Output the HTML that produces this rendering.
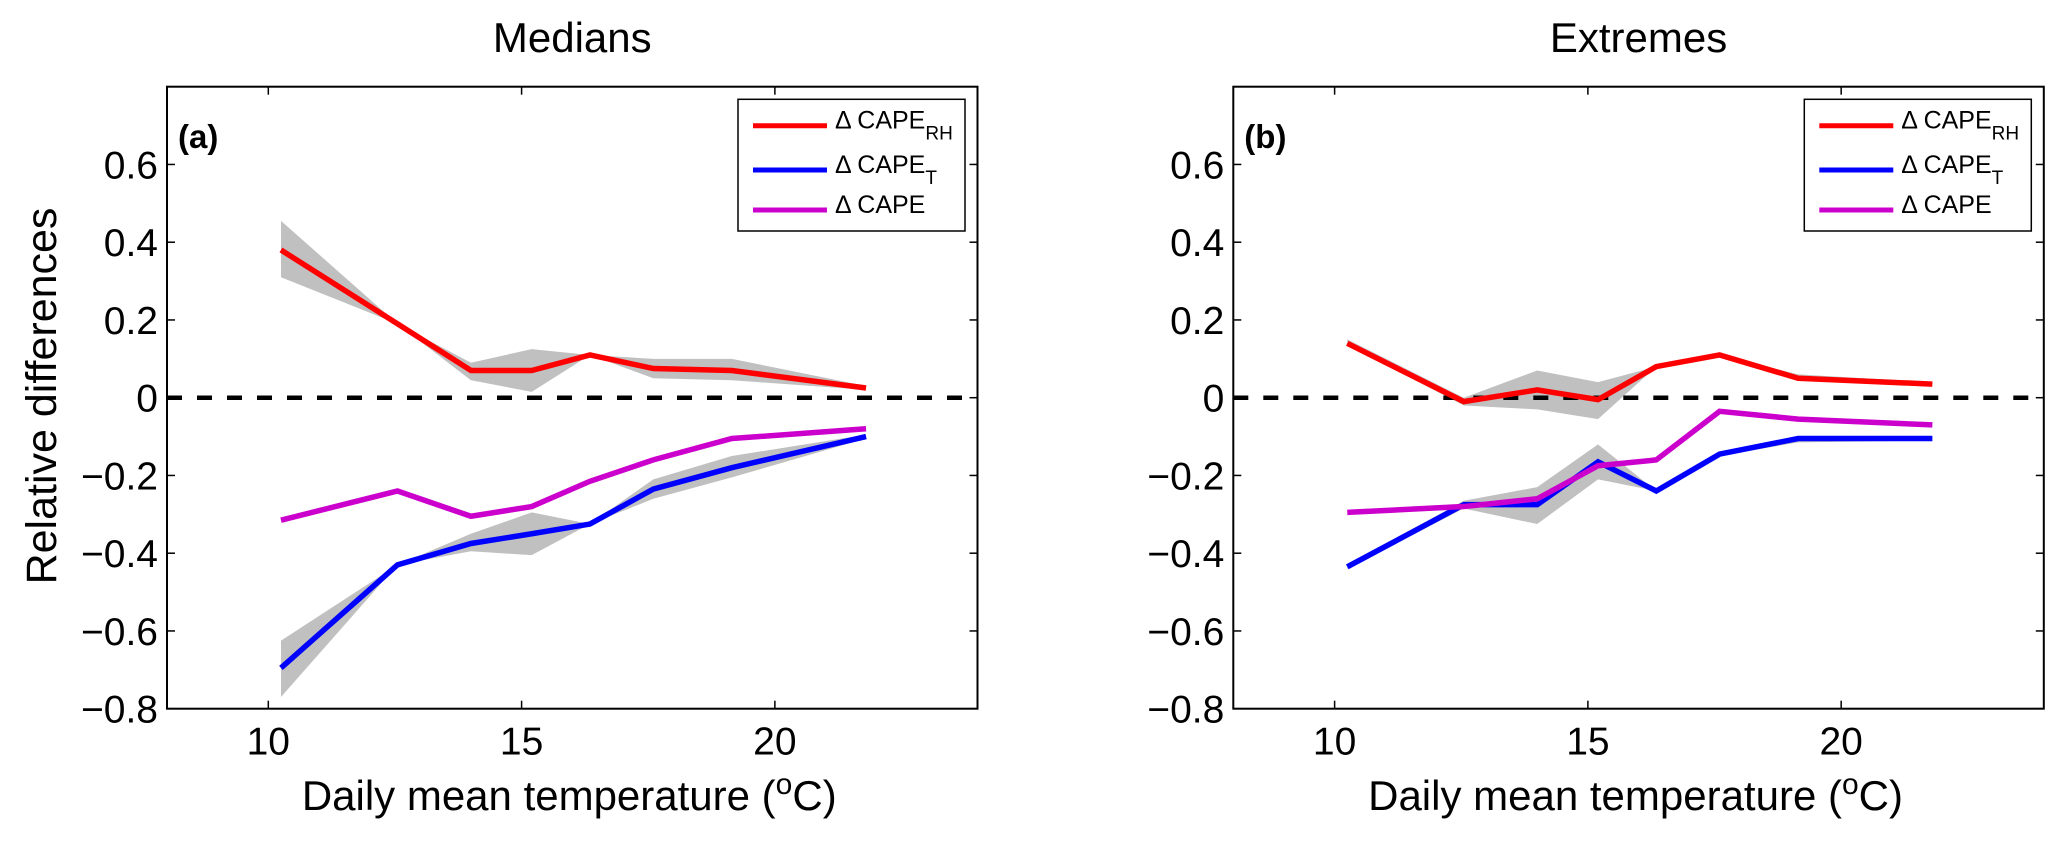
<!DOCTYPE html>
<html><head><meta charset="utf-8"><style>
html,body{margin:0;padding:0;background:#fff;}
svg{display:block;font-family:"Liberation Sans",Arial,sans-serif;}
</style></head><body>
<svg id="chart" width="2068" height="843" viewBox="0 0 2068 843" xmlns="http://www.w3.org/2000/svg"></svg>
<script>
const temps = [10.25, 12.55, 14.0, 15.2, 16.35, 17.6, 19.15, 21.8];
const xTicks = [10, 15, 20];
const yTicks = [-0.8, -0.6, -0.4, -0.2, 0, 0.2, 0.4, 0.6];
const yTickLabels = ["\u22120.8", "\u22120.6", "\u22120.4", "\u22120.2", "0", "0.2", "0.4", "0.6"];
// Panel a (Medians)
const aRH = [0.38, 0.19, 0.07, 0.07, 0.11, 0.075, 0.07, 0.025];
const aRHUp = [0.455, 0.19, 0.09, 0.125, 0.11, 0.1, 0.1, 0.03];
const aRHLo = [0.31, 0.19, 0.045, 0.015, 0.11, 0.05, 0.045, 0.02];
const aT = [-0.695, -0.43, -0.375, -0.35, -0.325, -0.235, -0.18, -0.1];
const aTUp = [-0.625, -0.43, -0.35, -0.295, -0.325, -0.21, -0.15, -0.095];
const aTLo = [-0.77, -0.43, -0.395, -0.405, -0.325, -0.26, -0.205, -0.105];
const aCAPE = [-0.315, -0.24, -0.305, -0.28, -0.215, -0.16, -0.105, -0.08];
// Panel b (Extremes)
const bRH = [0.14, -0.01, 0.02, -0.005, 0.08, 0.11, 0.05, 0.035];
const bRHUp = [0.15, 0.0, 0.07, 0.04, 0.08, 0.11, 0.06, 0.04];
const bRHLo = [0.135, -0.02, -0.03, -0.055, 0.08, 0.11, 0.045, 0.035];
const bT = [-0.435, -0.275, -0.275, -0.165, -0.24, -0.145, -0.105, -0.105];
const bTUp = [-0.43, -0.265, -0.23, -0.12, -0.24, -0.145, -0.1, -0.1];
const bTLo = [-0.44, -0.285, -0.325, -0.21, -0.24, -0.15, -0.115, -0.11];
const bCAPE = [-0.295, -0.28, -0.26, -0.175, -0.16, -0.035, -0.055, -0.07];

const NS = "http://www.w3.org/2000/svg";
const svg = document.getElementById("chart");
function mk(tag, attrs, parent, text) {
  const e = document.createElementNS(NS, tag);
  for (const k in attrs) e.setAttribute(k, attrs[k]);
  if (text !== undefined) e.textContent = text;
  (parent || svg).appendChild(e);
  return e;
}
const X0 = 8, X1 = 24, Y0 = -0.8, Y1 = 0.8;
const W = 810.5, H = 622;
function panel(offX, title, tag, rh, rhUp, rhLo, t, tUp, tLo, cape, key) {
  const L = 167 + offX, T = 86.7, R = L + W, B = T + H;
  const xs = v => L + (v - X0) / (X1 - X0) * W;
  const ys = v => B - (v - Y0) / (Y1 - Y0) * H;
  const g = mk("g", {});
  
  
  const tt = mk("text", {x: L + W / 2, y: 52, "text-anchor": "middle", "font-size": 42}, g, title);
  
  
  function band(up, lo, name) {
    let d = up.map((v, i) => (i ? "L" : "M") + xs(temps[i]) + "," + ys(v)).join(" ");
    for (let i = lo.length - 1; i >= 0; i--) d += " L" + xs(temps[i]) + "," + ys(lo[i]);
    const p = mk("path", {d: d + " Z", fill: "#c0c0c0", stroke: "none"}, g);
    
    
  }
  function line(vals, color, name) {
    const pts = vals.map((v, i) => xs(temps[i]) + "," + ys(v)).join(" ");
    const p = mk("polyline", {points: pts, fill: "none", stroke: color, "stroke-width": 5.5, "stroke-linejoin": "miter"}, g);
    
    
  }
  band(rhUp, rhLo, 'band-cape-rh-' + key);
  band(tUp, tLo, 'band-cape-t-' + key);
  const z = mk("line", {x1: L, x2: R, y1: ys(0), y2: ys(0), stroke: "#000", "stroke-width": 4.5, "stroke-dasharray": "15 15"}, g);
  
  
  line(rh, "#ff0000", 'line-cape-rh-' + key);
  line(t, "#0000ff", 'line-cape-t-' + key);
  line(cape, "#cc00cc", 'line-cape-' + key);
  const box = mk("rect", {x: L, y: T, width: W, height: H, fill: "none", stroke: "#000", "stroke-width": 2}, g);
  
  
  xTicks.forEach(v => {
    mk("line", {x1: xs(v), x2: xs(v), y1: B, y2: B - 8, stroke: "#000", "stroke-width": 1.5}, g);
    mk("line", {x1: xs(v), x2: xs(v), y1: T, y2: T + 8, stroke: "#000", "stroke-width": 1.5}, g);
    const l = mk("text", {x: xs(v), y: B + 46, "text-anchor": "middle", "font-size": 39}, g, String(v));
    
    
  });
  yTicks.forEach((v, i) => {
    mk("line", {x1: L, x2: L + 8, y1: ys(v), y2: ys(v), stroke: "#000", "stroke-width": 1.5}, g);
    mk("line", {x1: R, x2: R - 8, y1: ys(v), y2: ys(v), stroke: "#000", "stroke-width": 1.5}, g);
    const l = mk("text", {x: L - 9, y: ys(v) + 14, "text-anchor": "end", "font-size": 39}, g, yTickLabels[i]);
    
    
  });
  const pl = mk("text", {x: L + 11, y: 148, "font-size": 33, "font-weight": "bold"}, g, tag);
  
  
  const xl = mk("text", {x: L + W / 2 - 3, y: 810, "text-anchor": "middle", "font-size": 42}, g);
  
  
  mk("tspan", {}, xl, "Daily mean temperature (");
  mk("tspan", {dy: -16, "font-size": 30}, xl, "o");
  mk("tspan", {dy: 16}, xl, "C)");
  const lg = mk("g", {}, g);
  
  
  mk("rect", {x: L + 571, y: 99.3, width: 227, height: 131.7, fill: "#fff", stroke: "#000", "stroke-width": 1.5}, lg);
  const ents = [["#ff0000", "RH", 125.7], ["#0000ff", "T", 170], ["#cc00cc", "", 210]];
  ents.forEach(e => {
    mk("line", {x1: L + 586, x2: L + 660, y1: e[2], y2: e[2], stroke: e[0], "stroke-width": 5}, lg);
    const tx = mk("text", {x: L + 668, y: e[2] + 3, "font-size": 25}, lg);
    
    
    mk("tspan", {}, tx, "\u0394 CAPE");
    if (e[1]) mk("tspan", {dy: 11, "font-size": 19}, tx, e[1]);
  });
}
panel(0, "Medians", "(a)", aRH, aRHUp, aRHLo, aT, aTUp, aTLo, aCAPE, "a");
panel(1066.3, "Extremes", "(b)", bRH, bRHUp, bRHLo, bT, bTUp, bTLo, bCAPE, "b");
const yl = mk("text", {x: 0, y: 0, "text-anchor": "middle", "font-size": 43, transform: "translate(56,396) rotate(-90)"}, svg, "Relative differences");


</script>
</body></html>
